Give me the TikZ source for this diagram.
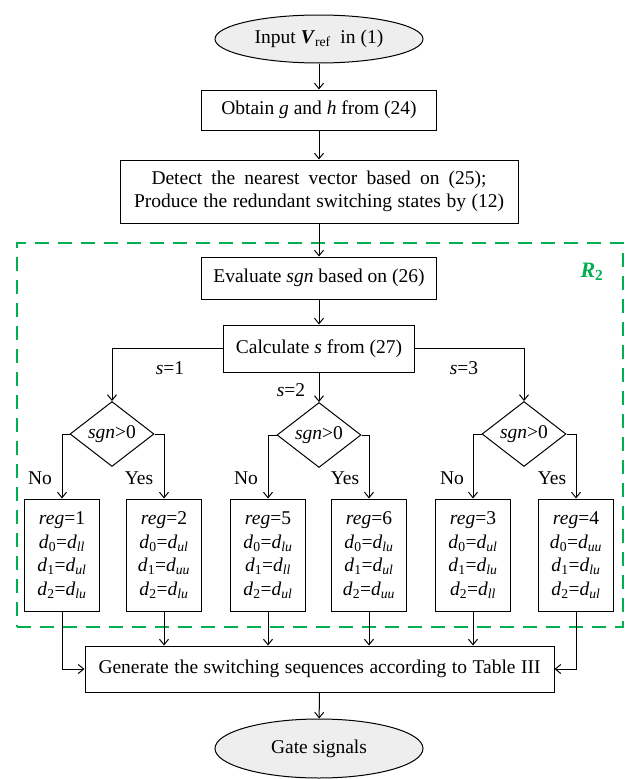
\documentclass[tikz,border=0pt]{standalone}
\usepackage{fontspec}
\setmainfont{Liberation Serif}
\usetikzlibrary{shapes.geometric,arrows.meta}
\definecolor{dgreen}{RGB}{0,176,80}
\definecolor{ellfill}{RGB}{238,238,238}
\newcommand\iv[1]{\textit{#1}}
\newcommand\ds[2]{\textit{d}\textsubscript{#1}=\textit{d}\textsubscript{\textit{#2}}}
\begin{document}
\begin{tikzpicture}[x=1pt,y=-1pt,
  every node/.style={font=\fontsize{19.5}{23.5}\selectfont},
  box/.style={draw, line width=1pt, rectangle, inner sep=0pt, align=center},
  term/.style={draw, line width=1pt, ellipse, fill=ellfill, inner sep=0pt},
  dec/.style={draw, line width=1pt, diamond, inner sep=0pt, minimum width=84pt, minimum height=62pt},
  regbox/.style={box, minimum width=75pt, minimum height=112pt},
  arr/.style={line width=1pt, -{Straight Barb[length=5.5pt,width=9pt]}},
  lbl/.style={inner sep=0pt}
]
\useasboundingbox (0,0) rectangle (628,779);
% region
\node[draw=dgreen, line width=2.5pt, dash pattern=on 14pt off 9pt, minimum width=606pt, minimum height=384pt, inner sep=0pt] (region) at (320,435) {};
\node[lbl, text=dgreen, font=\fontsize{22}{26}\selectfont\bfseries\itshape] (rlab) at (592,272) {R\textsubscript{\upshape 2}};

\node[term, minimum width=208pt, minimum height=48pt] (in) at (319,39) {Input \textbf{\textit{V}}\textsubscript{ref}\ \ in (1)};
\node[box, minimum width=235pt, minimum height=40pt] (obtain) at (319,110) {Obtain \iv{g} and \iv{h} from (24)};
\node[box, minimum width=398pt, minimum height=63pt] (detect) at (319,191.5) {\makebox[335pt][s]{Detect the nearest vector based on (25);}\\\makebox[370pt][s]{Produce the redundant switching states by (12)}};
\node[box, minimum width=235pt, minimum height=42pt] (eval) at (319,278) {Evaluate \iv{sgn} based on (26)};
\node[box, minimum width=191pt, minimum height=47pt] (calc) at (319,348.5) {Calculate \iv{s} from (27)};

\node[dec] (d1) at (112,434) {\iv{sgn}>0};
\node[dec] (d2) at (319,435) {\iv{sgn}>0};
\node[dec] (d3) at (524,434) {\iv{sgn}>0};

\node[regbox] (r1) at (62,555) {\iv{reg}=1\\\ds{0}{ll}\\\ds{1}{ul}\\\ds{2}{lu}};
\node[regbox] (r2) at (164,555) {\iv{reg}=2\\\ds{0}{ul}\\\ds{1}{uu}\\\ds{2}{lu}};
\node[regbox] (r3) at (268,555) {\iv{reg}=5\\\ds{0}{lu}\\\ds{1}{ll}\\\ds{2}{ul}};
\node[regbox] (r4) at (369,555) {\iv{reg}=6\\\ds{0}{lu}\\\ds{1}{ul}\\\ds{2}{uu}};
\node[regbox] (r5) at (473,555) {\iv{reg}=3\\\ds{0}{ul}\\\ds{1}{lu}\\\ds{2}{ll}};
\node[regbox] (r6) at (576,555) {\iv{reg}=4\\\ds{0}{uu}\\\ds{1}{lu}\\\ds{2}{ul}};

\node[box, minimum width=469pt, minimum height=46pt] (gen) at (319.5,669) {\makebox[442pt][s]{Generate the switching sequences according to Table III}};
\node[term, minimum width=208pt, minimum height=59pt] (gate) at (319,748.5) {Gate signals};

% labels
\node[lbl] (s1) at (170,368) {\iv{s}=1};
\node[lbl] (s2) at (291,390) {\iv{s}=2};
\node[lbl] (s3) at (464,368) {\iv{s}=3};
\node[lbl] (n1) at (40,478) {No};
\node[lbl] (y1) at (139,478) {Yes};
\node[lbl] (n2) at (246,478) {No};
\node[lbl] (y2) at (345,478) {Yes};
\node[lbl] (n3) at (452,478) {No};
\node[lbl] (y3) at (552,478) {Yes};

% connectors
\draw[arr] (in) -- (obtain);
\draw[arr] (obtain) -- (detect);
\draw[arr] (detect) -- (eval);
\draw[arr] (eval) -- (calc);
\draw[arr] (calc.west) -| (d1.north);
\draw[arr] (calc.south) -- (d2.north);
\draw[arr] (calc.east) -| (d3.north);
\draw[arr] (d1.west) -| (r1.north);
\draw[arr] (d1.east) -| (r2.north);
\draw[arr] (d2.west) -| (r3.north);
\draw[arr] (d2.east) -| (r4.north);
\draw[arr] (d3.west) -| (r5.north);
\draw[arr] (d3.east) -| (r6.north);
\draw[arr] (r1.south) |- (gen.west);
\draw[arr] (r2.south) -- (r2.south |- gen.north);
\draw[arr] (r3.south) -- (r3.south |- gen.north);
\draw[arr] (r4.south) -- (r4.south |- gen.north);
\draw[arr] (r5.south) -- (r5.south |- gen.north);
\draw[arr] (r6.south) |- (gen.east);
\draw[arr] (gen) -- (gate);
\end{tikzpicture}
\end{document}
